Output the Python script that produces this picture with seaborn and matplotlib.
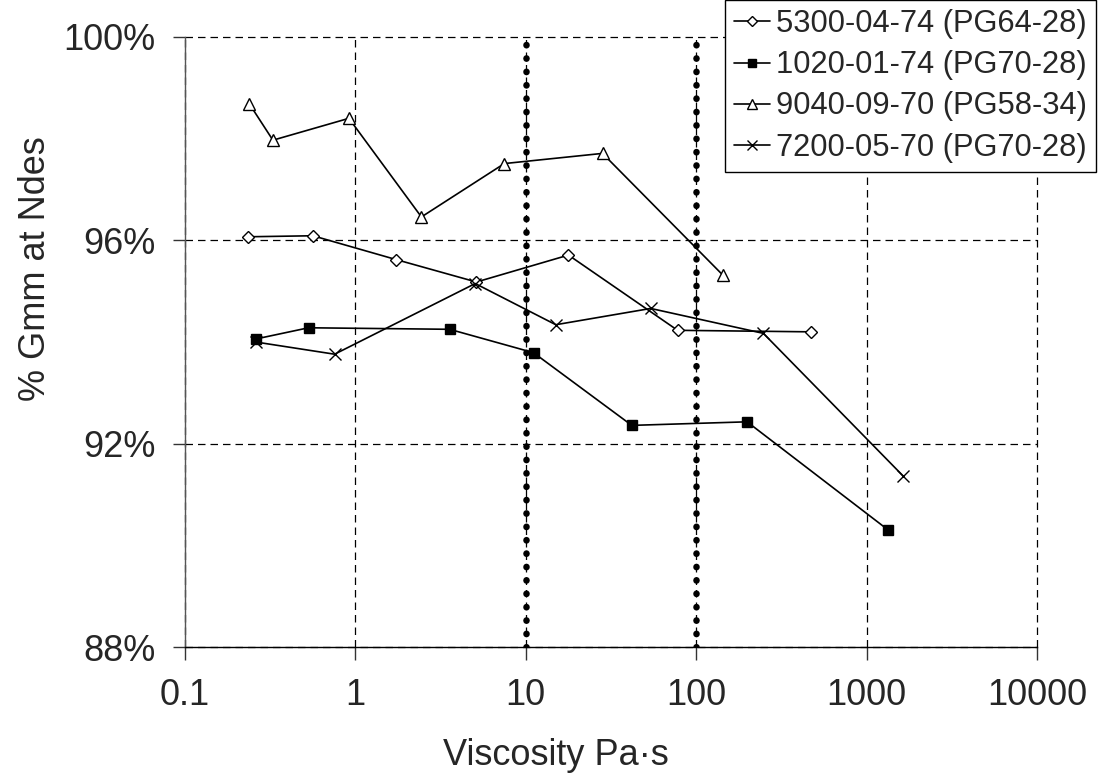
import pandas as pd
import matplotlib.pyplot as plt
import seaborn as sns

# data
visc_5300 = [0.234, 0.563, 1.74, 5.13, 17.8, 77.8, 472]
gmm_5300 = [96.07, 96.09, 95.62, 95.18, 95.71, 94.23, 94.20]

visc_1020 = [0.261, 0.531, 3.57, 11.1, 41.9, 199, 1330]
gmm_1020 = [94.06, 94.28, 94.25, 93.79, 92.36, 92.43, 90.31]

visc_9040 = [0.239, 0.328, 0.916, 2.44, 7.48, 28.2, 144]
gmm_9040 = [98.68, 97.97, 98.40, 96.46, 97.51, 97.71, 95.31]

visc_7200 = [0.26, 0.755, 5.05, 15.0, 54.1, 248, 1644]
gmm_7200 = [94.00, 93.76, 95.15, 94.34, 94.66, 94.17, 91.36]

labels = ['5300-04-74 (PG64-28)', '1020-01-74 (PG70-28)',
          '9040-09-70 (PG58-34)', '7200-05-70 (PG70-28)']
x_ticks = [0.1, 1, 10, 100, 1000, 10000]
x_tick_labels = ['0.1', '1', '10', '100', '1000', '10000']
y_ticks = [88, 92, 96, 100]
y_tick_labels = ['88%', '92%', '96%', '100%']
limit_lines = [10, 100]

series = [
    (visc_5300, gmm_5300, labels[0], 'D', 'white', 6.5),
    (visc_1020, gmm_1020, labels[1], 's', 'black', 7.5),
    (visc_9040, gmm_9040, labels[2], '^', 'white', 9),
    (visc_7200, gmm_7200, labels[3], 'x', 'black', 9),
]

sns.set_style('white')
plt.rcParams['font.family'] = ['Liberation Sans', 'DejaVu Sans']

fig = plt.figure(figsize=(10.98, 7.82), dpi=100)
ax = fig.add_axes([0.1685, 0.1726, 0.7759, 0.7801])

for xs, ys, lab, mk, fc, ms in series:
    df = pd.DataFrame({'x': xs, 'y': ys})
    sns.lineplot(data=df, x='x', y='y', ax=ax, color='black', linewidth=1.2,
                 marker=mk, markersize=ms, markerfacecolor=fc,
                 markeredgecolor='black', markeredgewidth=1.0,
                 sort=False, label=lab, zorder=5)

ax.set_xscale('log')
ax.set_xlim(0.1, 10000)
ax.set_ylim(88, 100)
ax.set_xticks(x_ticks)
ax.set_xticklabels(x_tick_labels)
ax.set_yticks(y_ticks)
ax.set_yticklabels(y_tick_labels)
ax.minorticks_off()

# dashed grid
ax.grid(True, which='major', color='black', linestyle=(0, (6, 4)), linewidth=0.9)
ax.set_axisbelow(True)
for gl in ax.get_xgridlines() + ax.get_ygridlines():
    gl.set_clip_on(False)

# thick dotted lines at 10 and 100 Pa·s
for v in limit_lines:
    ln = ax.axvline(v, color='black', linewidth=4.7, zorder=4)
    ln.set_dashes([0.05, 2.0])
    ln.set_dash_capstyle('round')

for s in ['top', 'right']:
    ax.spines[s].set_visible(False)
ax.spines['left'].set_color('#555555')
ax.spines['bottom'].set_color('black')
for s in ['left', 'bottom']:
    ax.spines[s].set_linewidth(1.0)

ax.tick_params(axis='both', direction='out', length=9, width=1.0,
               color='#333333', labelsize=26, left=True, bottom=True)
ax.tick_params(axis='x', pad=13)
ax.tick_params(axis='y', pad=12)

ax.set_xlabel('Viscosity Pa·s', fontsize=26, va='center')
ax.set_ylabel('% Gmm at Ndes', fontsize=26, va='center')
ax.xaxis.set_label_coords(0.435, -0.177)
ax.yaxis.set_label_coords(-0.176, 0.621)

ax.get_legend().remove()
handles, labs = ax.get_legend_handles_labels()
leg = fig.legend(handles, labs, loc='upper right', bbox_to_anchor=(0.998, 1.0),
                 fontsize=22.2, frameon=True, fancybox=False, framealpha=1,
                 edgecolor='black', borderpad=0.3, labelspacing=0.36,
                 handlelength=1.15, handletextpad=0.2, borderaxespad=0)
leg.get_frame().set_linewidth(1.0)
for h in leg.legend_handles:
    h.set_markersize(h.get_markersize() * 0.8)

plt.savefig('out.png', dpi=100)
